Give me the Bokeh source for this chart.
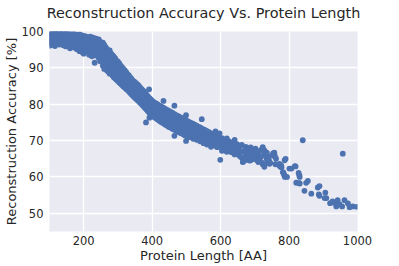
from bokeh.plotting import figure
from bokeh.models import Range1d, FixedTicker, ColumnDataSource, Title
from bokeh.embed import file_html
from bokeh.resources import INLINE

# Protein lengths [AA] (one entry per group) and the accuracies [%] measured at that length
lengths = [100, 104, 108, 112, 116, 120, 124, 128, 132, 136, 140, 144, 148, 152, 156, 160,
           164, 168, 172, 176, 180, 184, 188, 192, 196, 200, 204, 208, 212, 216, 220, 224,
           228, 232, 236, 240, 244, 248, 252, 256, 260, 264, 268, 272, 276, 280, 284, 288,
           292, 296, 300, 304, 308, 312, 316, 320, 324, 328, 332, 336, 340, 344, 348, 352,
           356, 360, 364, 368, 372, 376, 380, 382, 384, 388, 391, 392, 396, 400, 405, 410,
           415, 420, 425, 430, 433, 435, 440, 445, 450, 455, 460, 465, 470, 475, 480, 485,
           490, 495, 499, 500, 505, 510, 515, 520, 525, 530, 535, 540, 545, 550, 555, 560,
           566, 572, 578, 585, 590, 597, 599, 604, 611, 618, 625, 632, 636, 641, 646, 648,
           655, 660, 662, 665, 670, 672, 675, 679, 680, 684, 688, 689, 694, 695, 699, 702,
           704, 709, 710, 714, 718, 719, 723, 728, 733, 735, 738, 742, 743, 745, 753, 757,
           758, 760, 762, 772, 775, 777, 778, 782, 784, 786, 787, 788, 790, 794, 801, 807,
           817, 819, 821, 828, 830, 831, 840, 845, 850, 855, 865, 884, 887, 889, 904, 906,
           909, 920, 927, 933, 938, 942, 947, 955, 957, 962, 972, 977, 986, 998]

accuracy = [
    [99.6, 98.4, 97.2, 96.1], [99.1, 97.8, 96.6], [99.8, 98.9, 97.5, 96.3], [99.3, 98.0, 96.8],
    [99.7, 98.6, 97.4, 96.0], [99.2, 97.9, 96.7], [99.5, 98.3, 97.1], [99.8, 98.7, 97.6, 96.4],
    [99.0, 97.7, 96.9], [99.4, 98.2, 97.0], [99.7, 98.8, 97.3, 96.2], [99.1, 98.0, 96.8],
    [99.5, 98.5, 97.4, 95.9], [99.2, 97.8, 96.6], [99.6, 98.3, 97.1], [98.9, 97.6, 96.0, 95.4],
    [99.3, 98.1, 96.8], [99.0, 97.5, 96.3], [99.4, 98.4, 97.0, 95.6], [98.7, 97.4, 96.2],
    [99.1, 98.0, 96.7, 95.1], [98.8, 97.2, 95.9], [99.2, 97.8, 96.5, 94.6], [98.6, 97.3, 95.8],
    [98.9, 97.7, 96.3, 94.3], [98.4, 97.0, 95.6, 93.9], [98.7, 96.8, 95.2], [98.2, 97.3, 96.0, 94.4],
    [98.5, 96.6, 95.0], [98.0, 97.1, 95.7, 93.6], [98.6, 96.4, 94.8], [97.8, 96.9, 95.4, 93.2],
    [98.3, 96.2, 94.6], [97.6, 95.9, 94.1, 91.4], [98.0, 96.6, 95.1, 93.4], [97.4, 95.7, 94.3],
    [97.8, 96.3, 94.8, 92.7], [97.2, 95.4, 93.6, 91.8], [96.7, 95.0, 93.1], [96.9, 94.6, 92.5, 90.6],
    [96.3, 94.9, 93.4, 91.2, 89.7], [95.7, 94.1, 92.2, 90.4], [95.2, 93.6, 91.7, 89.3],
    [94.6, 93.0, 91.3, 88.9], [94.8, 92.5, 90.6, 88.4], [93.9, 92.1, 90.2, 88.7],
    [93.5, 91.6, 89.8, 87.9], [93.1, 91.2, 89.4, 87.4], [92.6, 90.8, 88.9, 87.1],
    [92.0, 90.3, 88.6, 86.7], [91.7, 90.0, 88.2, 86.4], [91.2, 89.4, 87.7, 86.0],
    [90.6, 89.0, 87.3, 85.6], [90.2, 88.5, 86.8, 85.3], [89.7, 88.1, 86.4, 84.9],
    [89.3, 87.6, 86.0, 84.6], [88.8, 87.2, 85.6, 84.2], [88.3, 86.8, 85.2, 83.9],
    [87.9, 86.3, 84.8, 83.5], [87.4, 85.9, 84.4, 83.1], [87.0, 85.5, 84.0, 82.7],
    [86.4, 85.1, 83.6, 82.3], [86.2, 84.7, 83.2, 81.9], [85.9, 84.4, 82.9, 81.6],
    [85.5, 84.0, 82.5, 81.2], [85.2, 83.6, 82.2, 80.9], [84.7, 83.2, 81.8, 80.5],
    [84.3, 82.8, 81.4, 80.1], [83.9, 82.4, 81.0, 79.7], [83.5, 82.0, 80.6, 79.3],
    [83.0, 81.6, 80.2, 78.9], [75.0], [82.6, 81.2, 79.8, 78.5], [82.1, 80.8, 79.4, 78.1],
    [84.1], [81.7, 80.4, 79.0, 77.6, 76.3], [81.3, 80.0, 78.6, 77.2], [80.9, 79.6, 78.2, 76.9],
    [80.6, 79.2, 77.9, 76.5], [80.3, 78.9, 77.5, 76.2], [80.0, 78.6, 77.2, 75.9],
    [79.7, 78.3, 76.9, 75.5], [79.4, 78.0, 76.6, 75.2], [79.2, 77.8, 76.3, 74.9], [80.9],
    [78.9, 77.5, 76.0, 74.6], [78.6, 77.2, 75.7, 74.3], [78.4, 76.9, 75.4, 74.0],
    [78.1, 76.6, 75.1, 73.7], [77.8, 76.4, 74.9, 73.5], [77.6, 76.1, 74.6, 73.2],
    [79.6, 77.3, 75.8, 74.3, 73.0, 71.3], [77.0, 75.5, 74.1, 72.7], [76.8, 75.3, 73.8, 72.5],
    [76.5, 75.0, 73.6, 72.2], [76.3, 74.8, 73.3, 72.0], [76.0, 74.5, 73.1, 71.8],
    [75.8, 74.3, 72.9, 71.5], [77.0, 69.9], [75.5, 74.0, 72.6, 71.3], [75.3, 73.8, 72.4, 71.1],
    [75.0, 73.6, 72.2, 70.9], [74.8, 73.3, 71.9], [74.6, 73.1, 71.7, 70.5], [74.3, 72.9, 71.5],
    [74.1, 72.6, 71.2, 70.2], [73.8, 72.4, 71.0], [73.6, 72.2, 70.8, 69.8],
    [75.9, 73.3, 71.9, 70.5], [73.1, 71.7, 70.3, 69.3], [72.9, 71.5, 70.1],
    [72.6, 71.2, 69.8, 68.9], [72.3, 70.9, 69.6], [72.0, 70.6, 69.3, 68.3], [71.7, 70.3, 69.0],
    [72.5, 71.2, 69.8, 68.6], [70.9, 69.5, 68.2], [72.0, 70.4, 69.1], [64.7],
    [70.7, 69.4, 68.0, 67.2], [70.1, 68.8, 67.6], [70.6, 69.4, 68.2, 66.9], [69.8, 68.6, 67.3],
    [69.3, 68.0, 66.8], [68.6], [70.2, 68.7, 67.5, 66.2], [67.3], [69.0, 67.8, 66.5],
    [68.4, 66.8, 65.8], [65.4], [68.8, 67.0], [64.2, 64.1], [64.5], [68.2, 66.6, 65.3],
    [68.2], [66.3], [67.6, 66.2, 64.9], [67.7, 64.5], [68.1, 66.4, 64.6], [65.9], [65.4],
    [67.3, 65.9], [66.8], [67.8, 66.1, 64.8], [67.3], [65.9], [66.9, 65.4, 64.1], [65.0],
    [67.4, 65.7], [64.1], [68.2, 67.9, 63.5], [67.3, 66.3, 62.8], [65.4], [66.7, 65.0, 64.0],
    [64.5], [65.6, 64.4], [63.6], [63.9], [66.5], [66.3, 66.7], [65.6, 65.8], [63.5],
    [65.0], [63.1, 63.6], [62.8], [63.2], [62.7], [61.3], [61.1], [60.5], [64.6, 60.4],
    [60.0], [65.0], [60.0], [62.3], [62.3], [63.0], [62.9], [58.4], [61.1], [60.5, 58.3],
    [60.0, 58.2], [70.1], [56.2], [58.4], [58.9], [55.4], [57.1], [55.2], [57.5, 54.8],
    [54.2], [55.7], [54.2], [52.8], [53.3], [52.9], [51.9], [53.6], [52.5], [51.9], [66.4],
    [53.6], [52.7], [51.7], [51.9], [51.8]]

x_ticks = [200, 400, 600, 800, 1000]
y_ticks = [50, 60, 70, 80, 90, 100]

xs, ys = [], []
for L, accs in zip(lengths, accuracy):
    for a in accs:
        xs.append(L)
        ys.append(a)
src = ColumnDataSource(data=dict(x=xs, y=ys))

p = figure(frame_width=308, frame_height=200, x_range=Range1d(100, 1000), y_range=Range1d(45, 100),
           output_backend="svg", toolbar_location=None,
           title="Reconstruction Accuracy Vs. Protein Length",
           min_border_left=0, min_border_right=33, min_border_top=0, min_border_bottom=0)

p.background_fill_color = "#EAEAF2"
p.border_fill_color = "white"
p.outline_line_color = None

p.scatter("x", "y", source=src, marker="circle", size=5.8, fill_color="#4C72B0",
          line_color=None)

p.grid.grid_line_color = "white"
p.grid.grid_line_width = 1.3
p.xaxis.ticker = FixedTicker(ticks=x_ticks)
p.yaxis.ticker = FixedTicker(ticks=y_ticks)
for ax in (p.xaxis[0], p.yaxis[0]):
    ax.axis_line_color = None
    ax.major_tick_line_color = None
    ax.minor_tick_line_color = None
    ax.major_tick_out = 0
    ax.major_tick_in = 0
    ax.minor_tick_out = 0
    ax.minor_tick_in = 0
    ax.major_label_text_font = "DejaVu Sans"
    ax.major_label_text_font_size = "11.5px"
    ax.major_label_text_color = "#262626"
    ax.axis_label_text_font = "DejaVu Sans"
    ax.axis_label_text_font_size = "13px"
    ax.axis_label_text_font_style = "normal"
    ax.axis_label_text_color = "#262626"
    ax.axis_label_standoff = 0
p.xaxis.major_label_standoff = 4
p.yaxis.major_label_standoff = 6
p.xaxis.axis_label = "Protein Length [AA]"
p.yaxis.axis_label = "Reconstruction Accuracy [%]"

p.title.text_font = "DejaVu Sans"
p.title.text_font_size = "14.4px"
p.title.text_font_style = "normal"
p.title.text_color = "#262626"
p.title.align = "center"
p.title.standoff = 4

# blank spacer above the title to push the title and frame down
p.add_layout(Title(text=" ", text_font_size="7px", standoff=0), "above")

open("out.html", "w").write(file_html(p, INLINE))
